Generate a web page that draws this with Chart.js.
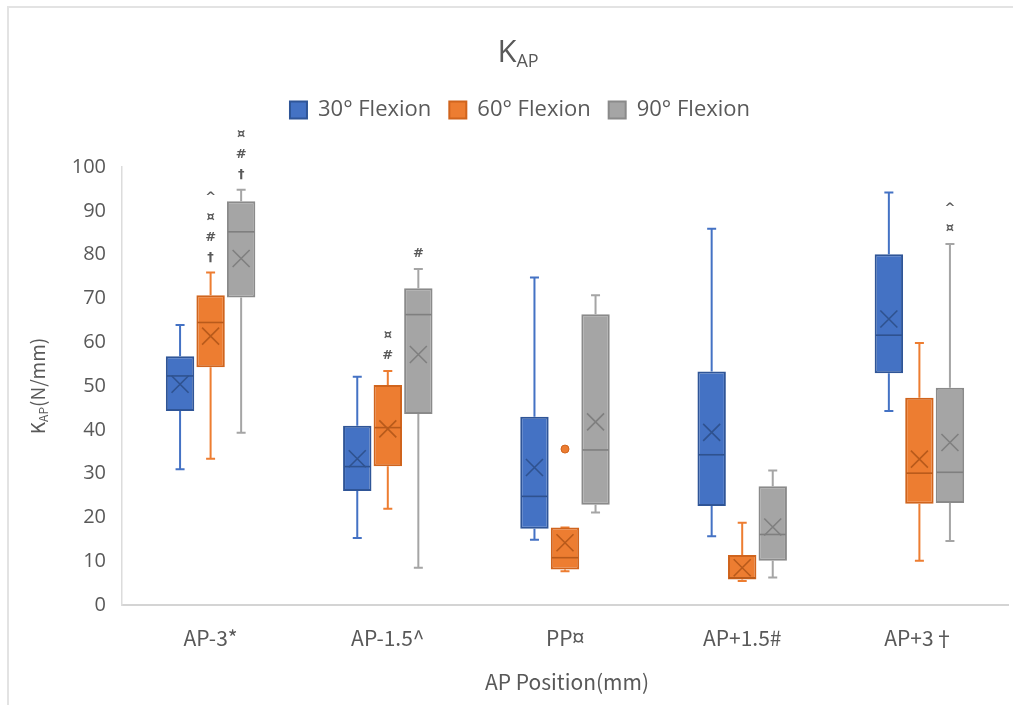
<!DOCTYPE html>
<html>
<head>
<meta charset="utf-8">
<script src="https://cdn.jsdelivr.net/npm/chart.js@4.4.1/dist/chart.umd.min.js"></script>
<style>
  html, body { margin: 0; padding: 0; background: #fff; }
  #wrap { position: relative; width: 1013px; height: 705px; overflow: hidden; }
  #frame { position: absolute; left: 7px; top: 6px; width: 1020px; height: 720px;
           border-left: 2px solid #e3e3e3; border-top: 2px solid #e3e3e3; }
  canvas { position: absolute; left: 0; top: 0; }
</style>
</head>
<body>
<div id="wrap">
  <div id="frame"></div>
  <canvas id="boxChart" width="1013" height="705"></canvas>
</div>
<script>
const positions = ["AP-3*", "AP-1.5^", "PP¤", "AP+1.5#", "AP+3†"];
const seriesNames = ["30° Flexion", "60° Flexion", "90° Flexion"];

// [min, q1, median, q3, max] per AP position
const flex30 = [[31.0, 44.3, 52.3, 56.8, 63.9], [15.3, 26.0, 31.6, 40.9, 52.1], [14.9, 17.4, 24.8, 43.0, 74.8], [15.7, 22.6, 34.3, 53.3, 85.9], [44.3, 52.9, 61.6, 80.1, 94.2]];
const flex60 = [[33.4, 54.3, 64.5, 70.7, 75.9], [22.0, 31.7, 40.5, 50.2, 53.4], [7.7, 8.1, 10.8, 17.7, 17.7], [5.5, 5.8, 6.2, 11.4, 18.8], [10.1, 23.1, 30.1, 47.3, 59.8]];
const flex90 = [[39.3, 70.2, 85.2, 92.2, 94.8], [8.5, 43.6, 66.3, 72.3, 76.7], [21.1, 22.9, 35.4, 66.4, 70.7], [6.3, 10.1, 16.1, 27.1, 30.7], [14.6, 23.3, 30.3, 49.6, 82.4]];

const mean30 = [50.4, 33.4, 31.4, 39.4, 65.3];
const mean60 = [61.4, 40.2, 14.2, 8.5, 33.3];
const mean90 = [79.1, 57.2, 41.8, 17.8, 37.1];

const outliers30 = [[], [], [], [], []];
const outliers60 = [[], [], [35.6], [], []];
const outliers90 = [[], [], [], [], []];

// significance symbols stacked above the upper whisker
const marks30 = ["", "", "", "", ""];
const marks60 = ["^¤#†", "¤#", "", "", ""];
const marks90 = ["¤#†", "#", "", "", "^¤"];

const textGrey = "#595959";

function makeSeries(label, stats, means, outliers, marks, fill, edge, inner) {
  return {
    label: label,
    data: stats.map(s => [s[1], s[3]]),
    stats: stats,
    means: means,
    outliers: outliers,
    marks: marks,
    backgroundColor: fill,
    borderColor: edge,
    innerColor: inner,
    whiskerColor: fill,
    borderWidth: 2,
    borderSkipped: false,
    categoryPercentage: 0.517,
    barPercentage: 0.93
  };
}

// whiskers, medians, means, outliers and symbols
const boxParts = {
  id: "boxParts",
  beforeDatasetsDraw(chart) {
    const ctx = chart.ctx, y = chart.scales.y;
    chart.data.datasets.forEach((ds, di) => {
      chart.getDatasetMeta(di).data.forEach((bar, i) => {
        const s = ds.stats[i];
        const cap = 4.5;
        ctx.save();
        ctx.strokeStyle = ds.whiskerColor;
        ctx.lineWidth = 2;
        ctx.beginPath();
        ctx.moveTo(bar.x, y.getPixelForValue(s[0]));
        ctx.lineTo(bar.x, y.getPixelForValue(s[1]));
        ctx.moveTo(bar.x, y.getPixelForValue(s[3]));
        ctx.lineTo(bar.x, y.getPixelForValue(s[4]));
        ctx.moveTo(bar.x - cap, y.getPixelForValue(s[0]));
        ctx.lineTo(bar.x + cap, y.getPixelForValue(s[0]));
        ctx.moveTo(bar.x - cap, y.getPixelForValue(s[4]));
        ctx.lineTo(bar.x + cap, y.getPixelForValue(s[4]));
        ctx.stroke();
        ctx.restore();
      });
    });
  },
  afterDatasetsDraw(chart) {
    const ctx = chart.ctx, y = chart.scales.y;
    chart.data.datasets.forEach((ds, di) => {
      chart.getDatasetMeta(di).data.forEach((bar, i) => {
        const s = ds.stats[i];
        const half = bar.width / 2 - 1;
        ctx.save();
        ctx.strokeStyle = ds.innerColor;
        ctx.lineWidth = 1.6;
        // median
        const ym = y.getPixelForValue(s[2]);
        ctx.beginPath();
        ctx.moveTo(bar.x - half, ym);
        ctx.lineTo(bar.x + half, ym);
        ctx.stroke();
        // mean marker
        const yx = y.getPixelForValue(ds.means[i]);
        const r = 8.5;
        ctx.beginPath();
        ctx.moveTo(bar.x - r, yx - r);
        ctx.lineTo(bar.x + r, yx + r);
        ctx.moveTo(bar.x - r, yx + r);
        ctx.lineTo(bar.x + r, yx - r);
        ctx.stroke();
        // outliers
        ds.outliers[i].forEach(v => {
          ctx.beginPath();
          ctx.arc(bar.x, y.getPixelForValue(v), 4, 0, Math.PI * 2);
          ctx.fillStyle = ds.backgroundColor;
          ctx.fill();
          ctx.lineWidth = 1;
          ctx.strokeStyle = ds.borderColor;
          ctx.stroke();
        });
        // symbols
        const marks = Array.from(ds.marks[i]);
        ctx.fillStyle = textGrey;
        ctx.font = "bold 13px 'DejaVu Sans'";
        ctx.textAlign = "center";
        ctx.textBaseline = "middle";
        let yy = y.getPixelForValue(s[4]) - 15;
        for (let k = marks.length - 1; k >= 0; k--) {
          ctx.fillText(marks[k], bar.x, yy);
          yy -= 20;
        }
        ctx.restore();
      });
    });
  },
  afterDraw(chart) {
    const ctx = chart.ctx, area = chart.chartArea;
    ctx.save();
    ctx.fillStyle = textGrey;
    ctx.textBaseline = "alphabetic";
    // chart title K_AP
    ctx.font = "31px 'Open Sans'";
    const kw = ctx.measureText("K").width;
    ctx.font = "18px 'Open Sans'";
    const sw = ctx.measureText("AP").width;
    let x0 = 518 - (kw + sw) / 2;
    ctx.textAlign = "left";
    ctx.font = "31px 'Open Sans'";
    ctx.fillText("K", x0, 62);
    ctx.font = "18px 'Open Sans'";
    ctx.fillText("AP", x0 + kw, 67);
    // x axis title
    ctx.font = "21px 'Noto Sans CJK SC'";
    ctx.textAlign = "center";
    ctx.textBaseline = "middle";
    ctx.fillText("AP Position(mm)", (area.left + area.right) / 2 + 2, 682);
    // y axis title K_AP(N/mm)
    ctx.translate(38, (area.top + area.bottom) / 2);
    ctx.rotate(-Math.PI / 2);
    ctx.textBaseline = "middle";
    ctx.textAlign = "left";
    ctx.font = "19px 'Noto Sans CJK SC'";
    const w1 = ctx.measureText("K").width;
    const w3 = ctx.measureText("(N/mm)").width;
    ctx.font = "12px 'Noto Sans CJK SC'";
    const w2 = ctx.measureText("AP").width;
    let xs = -(w1 + w2 + w3) / 2;
    ctx.font = "19px 'Noto Sans CJK SC'";
    ctx.fillText("K", xs, 0);
    ctx.font = "12px 'Noto Sans CJK SC'";
    ctx.fillText("AP", xs + w1, 5);
    ctx.font = "19px 'Noto Sans CJK SC'";
    ctx.fillText("(N/mm)", xs + w1 + w2, 0);
    ctx.restore();
  }
};

const ctx = document.getElementById("boxChart").getContext("2d");
const boxChart = new Chart(ctx, {
  type: "bar",
  data: {
    labels: positions,
    datasets: [
      makeSeries(seriesNames[0], flex30, mean30, outliers30, marks30, "#4472C4", "#2F5597", "#2F528F"),
      makeSeries(seriesNames[1], flex60, mean60, outliers60, marks60, "#ED7D31", "#D0641D", "#B85A1B"),
      makeSeries(seriesNames[2], flex90, mean90, outliers90, marks90, "#A5A5A5", "#8A8A8A", "#7F7F7F")
    ]
  },
  options: {
    responsive: false,
    animation: false,
    layout: { padding: { top: 81, right: 5, left: 32, bottom: 0 } },
    plugins: {
      title: { display: false },
      tooltip: { enabled: false },
      legend: {
        position: "top",
        labels: {
          color: textGrey,
          font: { family: "'Open Sans'", size: 22 },
          boxWidth: 17,
          boxHeight: 17,
          padding: 18
        }
      }
    },
    scales: {
      x: {
        grid: { display: false, drawTicks: false },
        border: { display: true, color: "#d4d4d4", width: 2 },
        ticks: {
          color: textGrey,
          padding: 20,
          font: { family: "'Noto Sans CJK SC'", size: 21 }
        },
        afterFit(scale) { scale.height = 100; }
      },
      gap: {
        type: "category",
        position: "top",
        grid: { display: false, drawTicks: false },
        border: { display: false },
        ticks: { display: false },
        afterFit(scale) { scale.height = 36; }
      },
      y: {
        min: 0,
        max: 100,
        grid: { display: false, drawTicks: false },
        border: { display: true, color: "#dcdcdc", width: 1.5 },
        ticks: {
          stepSize: 10,
          color: textGrey,
          padding: 16,
          font: { family: "'Open Sans'", size: 20 }
        },
        afterFit(scale) { scale.width = 90; }
      }
    }
  },
  plugins: [boxParts]
});
</script>
</body>
</html>
